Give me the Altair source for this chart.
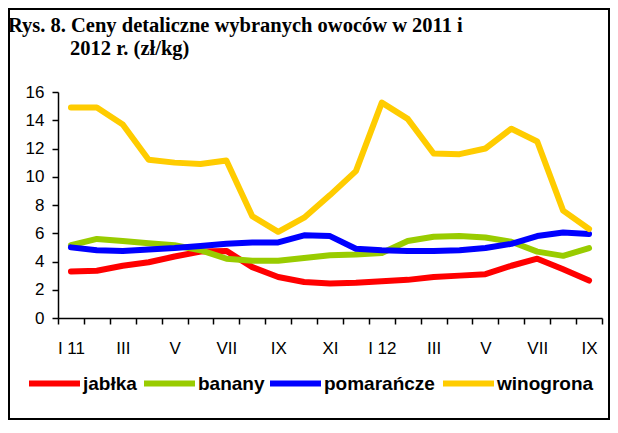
import json
import altair as alt
import pandas as pd

# ---- data -------------------------------------------------------------
months = list(range(21))
month_labels = ["I 11", "", "III", "", "V", "", "VII", "", "IX", "", "XI", "",
                "I 12", "", "III", "", "V", "", "VII", "", "IX"]
series = ["jabłka", "banany", "pomarańcze", "winogrona"]
colors = ["#FF0000", "#99CC00", "#0000FF", "#FFCC00"]

jablka = [3.3, 3.35, 3.7, 3.95, 4.35, 4.7, 4.75, 3.6, 2.9, 2.55, 2.45, 2.5,
          2.6, 2.7, 2.9, 3.0, 3.1, 3.7, 4.2, 3.45, 2.65]
banany = [5.15, 5.6, 5.45, 5.3, 5.15, 4.8, 4.2, 4.05, 4.05, 4.25, 4.45, 4.5,
          4.6, 5.45, 5.75, 5.8, 5.7, 5.4, 4.7, 4.4, 4.95]
pomarancze = [5.0, 4.8, 4.75, 4.85, 4.95, 5.1, 5.25, 5.35, 5.35, 5.85, 5.8, 4.9,
              4.8, 4.75, 4.75, 4.8, 4.95, 5.25, 5.8, 6.05, 5.95]
winogrona = [14.9, 14.9, 13.7, 11.2, 11.0, 10.9, 11.15, 7.2, 6.1, 7.1, 8.7, 10.4,
             15.25, 14.1, 11.65, 11.6, 12.0, 13.4, 12.5, 7.6, 6.3]

y_ticks = [0, 2, 4, 6, 8, 10, 12, 14, 16]
title_lines = ["Rys. 8. Ceny detaliczne wybranych owoców w 2011 i",
               "2012 r. (zł/kg)"]

# legend placement (pixels, relative to plot origin) - layout only
legend_x = [-32, 83, 209, 382]
legend_y = 263

rows = []
for name, vals in zip(series, [jablka, banany, pomarancze, winogrona]):
    for m, v in zip(months, vals):
        rows.append({"month": m, "series": name, "value": v})
df = pd.DataFrame(rows)

label_expr = json.dumps(month_labels) + "[datum.value]"

x_enc = alt.X("month:O",
              scale=alt.Scale(type="band", paddingInner=0, paddingOuter=0),
              bandPosition=0.5,
              axis=alt.Axis(title=None, labelAngle=0, labelExpr=label_expr,
                            tickBand="extent", tickSize=6, labelPadding=16,
                            grid=False))
y_enc = alt.Y("value:Q",
              scale=alt.Scale(domain=[0, 16], nice=False),
              axis=alt.Axis(title=None, values=y_ticks, grid=False,
                            tickSize=6, labelPadding=8))

line_layers = []
for name, col, lx in zip(series, colors, legend_x):
    line_layers.append(
        alt.Chart(df).transform_filter(alt.datum.series == name)
        .mark_line(strokeWidth=6, strokeCap="round", strokeJoin="round")
        .encode(
            x=x_enc, y=y_enc,
            color=alt.Color("series:N",
                            scale=alt.Scale(domain=[name], range=[col]),
                            legend=alt.Legend(orient="none", legendX=lx,
                                              legendY=legend_y, title=None,
                                              symbolType="stroke",
                                              symbolSize=2601,
                                              symbolStrokeWidth=6,
                                              labelFont="Liberation Sans",
                                              labelFontSize=19,
                                              labelFontWeight="bold",
                                              labelColor="black",
                                              labelOffset=0, padding=0)),
        )
    )

title1 = alt.Chart(alt.Data(values=[{"t": title_lines[0]}])).mark_text(
    align="left", baseline="alphabetic", font="Liberation Serif",
    fontSize=20.5, fontWeight="bold", color="black"
).encode(text="t:N", x=alt.value(-50), y=alt.value(-60))

title2 = alt.Chart(alt.Data(values=[{"t": title_lines[1]}])).mark_text(
    align="left", baseline="alphabetic", font="Liberation Serif",
    fontSize=20.5, fontWeight="bold", color="black"
).encode(text="t:N", x=alt.value(12), y=alt.value(-37))

frame = alt.Chart(alt.Data(values=[{"f": 1}])).mark_rect(
    filled=False, stroke="black", strokeWidth=2
).encode(x=alt.value(-49), x2=alt.value(551), y=alt.value(-83), y2=alt.value(327))

chart = alt.layer(frame, *line_layers, title1, title2).resolve_scale(
    color="independent"
).properties(
    width=544, height=226,
    autosize=alt.AutoSizeParams(type="none"),
    padding={"left": 50, "top": 84, "right": 8, "bottom": 102},
    background="white",
).configure_view(stroke=None).configure_axis(
    labelFont="Liberation Sans", labelFontSize=17, labelColor="black",
    domainColor="black", tickColor="black", domainWidth=1.5, tickWidth=1.5,
)

chart.save("out.html", embed_options={"renderer": "svg", "actions": False})
